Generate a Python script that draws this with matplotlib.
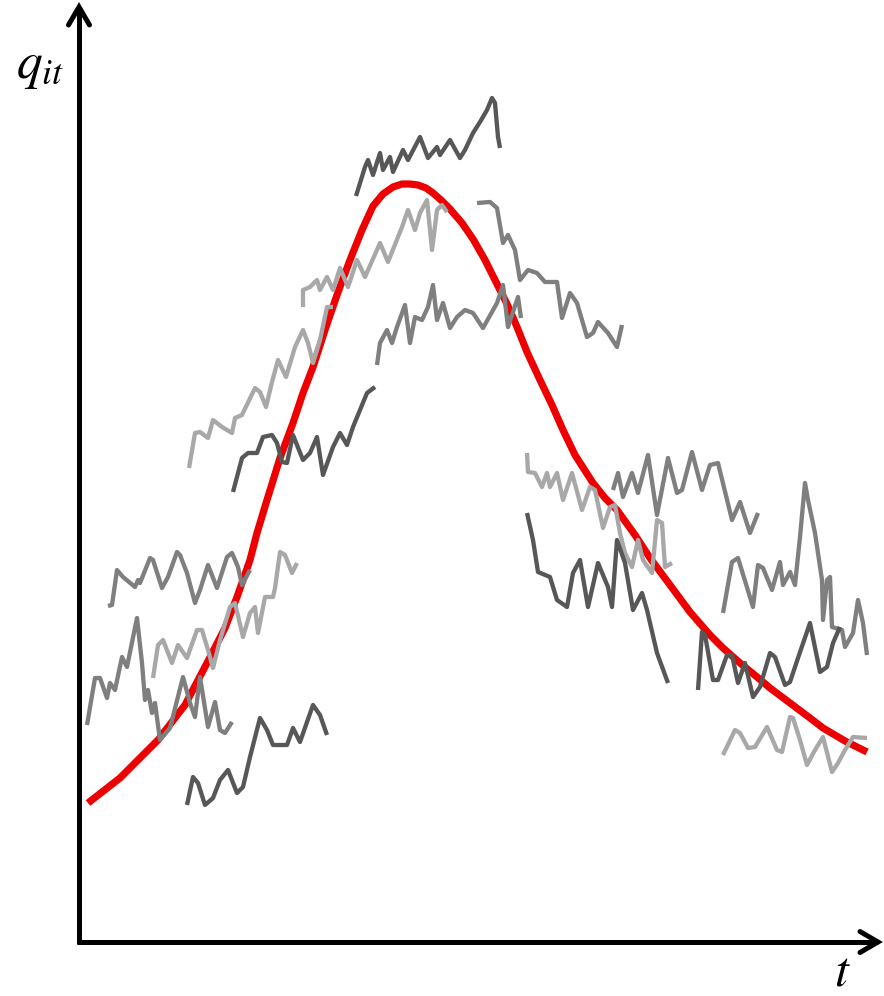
import matplotlib
matplotlib.use("Agg")
import matplotlib.pyplot as plt

plt.rcParams['mathtext.fontset'] = 'stix'

# ---- data (t to the right, q plotted on a downward scale) ----
red_t = [88, 120, 140, 158, 185, 207, 225, 237, 250, 257, 267, 280, 293, 303, 313, 325, 337, 350,
         362, 373, 383, 393, 402, 410, 418, 426, 433, 441, 450, 462, 473, 485, 497, 508, 517, 527, 540, 552,
         563, 575, 593, 605, 617, 635, 650, 670, 690, 710, 723, 740, 757, 770, 790, 810, 823, 845, 867]
red_q = [803, 778, 758, 740, 705, 663, 628, 597, 560, 533, 500, 458, 423, 393, 367, 330, 295, 260,
         230, 206, 194, 187, 184, 184, 185, 188, 193, 200, 209, 223, 239, 260, 284, 306, 327, 352, 380, 405,
         430, 455, 483, 498, 510, 535, 558, 585, 612, 635, 648, 663, 677, 688, 703, 718, 728, 741, 752]

seg_a_t = [108, 112, 117, 123, 135, 138, 140, 150, 153, 162, 168, 177, 180, 187, 195, 200, 208, 217, 227, 232, 238, 242, 250]
seg_a_q = [606, 605, 570, 577, 587, 580, 583, 558, 560, 588, 577, 552, 555, 573, 603, 590, 565, 588, 557, 553, 567, 585, 570]

seg_b_t = [153, 158, 163, 172, 178, 187, 197, 202, 208, 213, 220, 230, 235, 243, 250, 255, 258, 265, 273, 275, 280, 285, 292, 297]
seg_b_q = [678, 645, 640, 663, 645, 658, 630, 630, 650, 668, 640, 607, 603, 637, 613, 607, 633, 597, 597, 588, 552, 555, 573, 563]

seg_c_t = [87, 95, 100, 107, 110, 115, 122, 127, 137, 142, 145, 148, 152, 155, 160, 170, 183, 190, 195, 200, 208, 215, 220, 225, 232]
seg_c_q = [725, 678, 678, 698, 683, 690, 657, 667, 618, 663, 700, 690, 713, 703, 740, 728, 677, 703, 717, 677, 727, 702, 730, 733, 722]

seg_d_t = [187, 193, 198, 205, 213, 220, 228, 237, 243, 250, 260, 267, 273, 287, 293, 300, 313, 320, 327]
seg_d_q = [805, 777, 783, 805, 798, 780, 770, 793, 787, 757, 718, 730, 745, 745, 728, 742, 705, 715, 735]

seg_e_t = [189, 195, 200, 208, 213, 222, 232, 235, 242, 255, 260, 266, 272, 278, 286, 295, 303, 308, 313, 320, 327, 333]
seg_e_q = [468, 433, 432, 438, 420, 427, 433, 418, 415, 388, 392, 407, 382, 360, 377, 347, 330, 343, 363, 340, 307, 307]

seg_f_t = [303, 303, 310, 317, 320, 327, 333, 340, 348, 357, 365, 380, 388, 402, 408, 415, 420, 427, 432, 437, 442, 447]
seg_f_q = [307, 290, 287, 280, 290, 277, 290, 268, 287, 260, 277, 243, 262, 227, 210, 230, 213, 200, 250, 210, 205, 212]

seg_g_t = [233, 242, 248, 257, 263, 272, 277, 282, 287, 293, 303, 310, 317, 323, 333, 340, 347, 353, 367, 375]
seg_g_q = [492, 458, 453, 453, 437, 435, 443, 462, 463, 435, 460, 453, 437, 475, 447, 433, 445, 427, 393, 387]

seg_h_t = [356, 365, 368, 373, 380, 383, 390, 393, 403, 408, 420, 428, 437, 440, 450, 460, 465, 473, 480, 487, 492, 495, 498, 500]
seg_h_q = [196, 167, 160, 175, 153, 170, 157, 172, 150, 160, 137, 158, 147, 155, 140, 158, 150, 133, 122, 110, 98, 103, 137, 148]

seg_i_t = [377, 380, 387, 392, 397, 405, 410, 415, 422, 428, 433, 437, 443, 450, 457, 465, 473, 483, 497, 503, 508, 518, 521]
seg_i_q = [365, 343, 330, 343, 327, 305, 343, 317, 320, 307, 285, 320, 303, 328, 317, 310, 313, 328, 303, 285, 327, 297, 318]

seg_j_t = [477, 490, 497, 503, 508, 515, 520, 528, 537, 545, 557, 562, 570, 577, 587, 593, 598, 608, 617, 622]
seg_j_q = [203, 202, 208, 243, 235, 250, 280, 270, 273, 282, 282, 318, 293, 303, 337, 333, 322, 333, 347, 325]

seg_k_t = [527, 528, 535, 542, 547, 550, 557, 563, 572, 582, 590, 595, 603, 610, 615, 620, 625, 632, 638, 643, 652, 657, 662, 665, 672]
seg_k_q = [453, 472, 473, 487, 473, 487, 473, 500, 473, 510, 487, 490, 528, 507, 505, 533, 553, 567, 540, 560, 573, 520, 523, 567, 563]

seg_l_t = [527, 533, 538, 550, 557, 567, 573, 580, 588, 598, 608, 612, 617, 625, 633, 642, 647, 657, 668]
seg_l_q = [513, 540, 572, 577, 600, 607, 573, 560, 607, 563, 587, 607, 540, 563, 610, 593, 610, 653, 683]

seg_m_t = [613, 618, 623, 632, 638, 648, 657, 668, 677, 682, 692, 702, 710, 718, 732, 740, 750, 758]
seg_m_q = [490, 473, 497, 473, 493, 455, 515, 458, 493, 490, 452, 490, 465, 463, 520, 502, 533, 513]

seg_n_t = [723, 732, 738, 753, 758, 763, 772, 780, 783, 790, 795, 800, 805, 808, 815, 822, 823, 827, 830, 832, 842, 845, 853, 858, 863, 867]
seg_n_q = [613, 562, 558, 607, 565, 568, 590, 562, 585, 572, 585, 537, 483, 500, 533, 580, 620, 580, 577, 627, 630, 647, 633, 600, 623, 655]

seg_o_t = [698, 702, 705, 713, 718, 727, 732, 738, 745, 753, 760, 770, 775, 785, 790, 798, 810, 820, 827, 833, 840]
seg_o_q = [690, 632, 635, 680, 680, 655, 655, 683, 663, 697, 687, 653, 657, 685, 682, 658, 623, 672, 667, 643, 627]

seg_p_t = [723, 735, 740, 748, 755, 767, 777, 782, 790, 793, 800, 807, 815, 823, 832, 838, 845, 853, 867]
seg_p_q = [755, 730, 733, 748, 747, 727, 750, 752, 717, 718, 740, 765, 750, 737, 772, 763, 750, 737, 738]

# ---- styling ----
DARK, MID, LIGHT = '#575757', '#7f7f7f', '#a8a8a8'
segments = [
    (seg_a_t, seg_a_q, MID), (seg_b_t, seg_b_q, LIGHT), (seg_c_t, seg_c_q, MID),
    (seg_d_t, seg_d_q, DARK), (seg_e_t, seg_e_q, LIGHT), (seg_f_t, seg_f_q, LIGHT),
    (seg_g_t, seg_g_q, DARK), (seg_h_t, seg_h_q, DARK), (seg_i_t, seg_i_q, MID),
    (seg_j_t, seg_j_q, MID), (seg_k_t, seg_k_q, LIGHT), (seg_l_t, seg_l_q, DARK),
    (seg_m_t, seg_m_q, MID), (seg_n_t, seg_n_q, MID), (seg_o_t, seg_o_q, DARK),
    (seg_p_t, seg_p_q, LIGHT),
]

fig = plt.figure(figsize=(8.84, 9.96), dpi=100)
ax = fig.add_axes([0, 0, 1, 1])
ax.set_xlim(0, 884)
ax.set_ylim(996, 0)
ax.axis('off')

ax.plot(red_t, red_q, color='#ee0000', lw=5.2, solid_capstyle='butt', solid_joinstyle='round', zorder=2)
for t, q, c in segments:
    ax.plot(t, q, color=c, lw=3.1, solid_capstyle='butt', solid_joinstyle='round', zorder=3)

# axes with open arrowheads
ORIGIN_X, ORIGIN_Y = 79, 942
X_END, Y_END = 878, 7
HEAD_L, HEAD_W = 18, 10.5
ax.plot([ORIGIN_X, ORIGIN_X], [ORIGIN_Y + 2, Y_END], color='black', lw=3.6, solid_capstyle='butt')
ax.plot([ORIGIN_X - 2, X_END], [ORIGIN_Y, ORIGIN_Y], color='black', lw=3.6, solid_capstyle='butt')
ax.plot([ORIGIN_X - HEAD_W, ORIGIN_X, ORIGIN_X + HEAD_W], [Y_END + HEAD_L, Y_END, Y_END + HEAD_L],
        color='black', lw=3.6, solid_joinstyle='miter', solid_capstyle='round')
ax.plot([X_END - HEAD_L, X_END, X_END - HEAD_L], [ORIGIN_Y - HEAD_W, ORIGIN_Y, ORIGIN_Y + HEAD_W],
        color='black', lw=3.6, solid_joinstyle='miter', solid_capstyle='round')

ax.text(16, 78, r'$q_{it}$', fontsize=37, ha='left', va='baseline')
ax.text(834, 985, r'$t$', fontsize=36, ha='left', va='baseline')

fig.savefig('out.png', dpi=100)
